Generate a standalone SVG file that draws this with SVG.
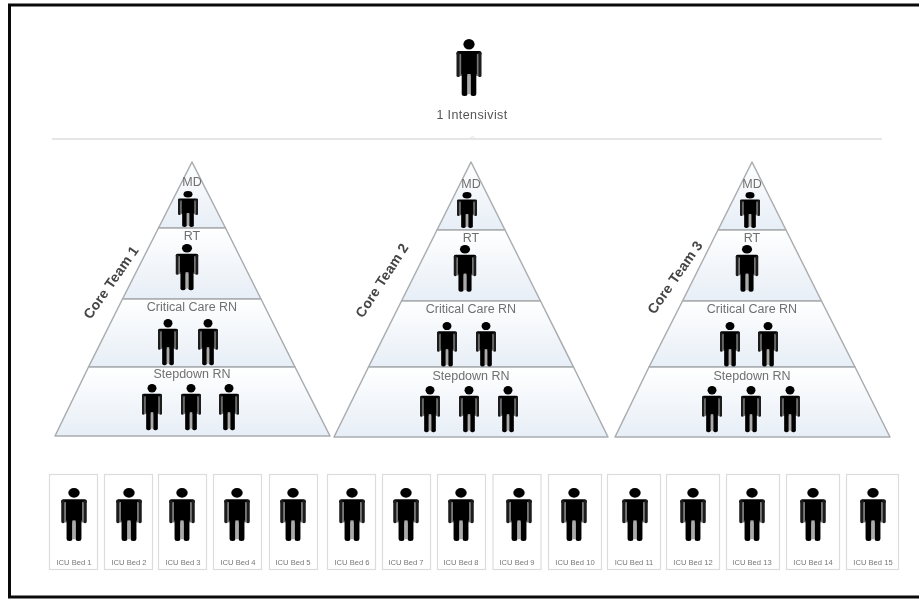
<svg xmlns="http://www.w3.org/2000/svg" xmlns:xlink="http://www.w3.org/1999/xlink" width="919" height="600" viewBox="0 0 919 600">
<style>
text{font-family:"Liberation Sans",Arial,sans-serif;text-anchor:middle}
.band{fill:url(#bandFill);stroke:#a9adb0;stroke-width:1.5;stroke-linejoin:round}
.lvl{font-size:12.5px;fill:#707070}
.team{font-size:14px;font-weight:bold;fill:#444;letter-spacing:.2px}
.bed{fill:#fff;stroke:#dcdcdc;stroke-width:1.2}
.bedtxt{font-size:7.6px;fill:#777}
.soft{filter:url(#soft)}
</style>
<defs>
<linearGradient id="bandFill" x1="0" y1="0" x2="0" y2="1"><stop offset="0" stop-color="#ffffff"/><stop offset="1" stop-color="#e7eef6"/></linearGradient>
<filter id="soft" x="-5%" y="-5%" width="110%" height="110%"><feGaussianBlur stdDeviation="0.55"/></filter>
<g id="person">
<ellipse cx="0" cy="5.200" rx="5.600" ry="5.200"/>
<rect x="-12.500" y="12" width="25" height="4.500" rx="2"/>
<rect x="-12.500" y="13" width="3.400" height="25" rx="1.600" fill="#1a1a1a"/>
<rect x="9.100" y="13" width="3.400" height="25" rx="1.600" fill="#1a1a1a"/>
<rect x="-9.400" y="15" width="18.800" height="22" fill="#777"/>
<rect x="-7.800" y="13" width="15.600" height="22"/>
<rect x="-7.300" y="32" width="5.800" height="25" rx="2.500"/>
<rect x="1.500" y="32" width="5.800" height="25" rx="2.500"/>
<rect x="-1.500" y="35" width="3" height="20" fill="#aaa"/>
</g>
</defs>
<rect width="919" height="600" fill="#fff"/>
<path d="M919 5H9.500V597H919" fill="none" stroke="#0a0a0a" stroke-width="3"/>
<g class="soft">
<g id="connectors"><path d="M52 139H882" stroke="#dedede" stroke-width="1.600" fill="none"/><path d="M470 138.500L472.500 136.500L475 138.500" stroke="#dedede" fill="none"/></g>
<g id="intensivist"><use xlink:href="#person" href="#person" transform="translate(469 39)"/><text x="472" y="119" font-size="12.500" fill="#555" letter-spacing=".4">1 Intensivist</text></g>

<g id="core-team-1">
<polygon class="band" points="192,162 225.500,228 158.500,228"/>
<polygon class="band" points="158.500,228 225.500,228 261,299 122.500,299"/>
<polygon class="band" points="122.500,299 261,299 295,367 88.500,367"/>
<polygon class="band" points="88.500,367 295,367 330,436 55,436"/>
<text class="team" transform="translate(115 285) rotate(-55)">Core Team 1</text>
<text class="lvl" x="192" y="186">MD</text><text class="lvl" x="192" y="240">RT</text><text class="lvl" x="192" y="311">Critical Care RN</text><text class="lvl" x="192" y="378">Stepdown RN</text>
<use xlink:href="#person" href="#person" transform="translate(188 191) scale(.8 .63)"/>
<use xlink:href="#person" href="#person" transform="translate(187 244) scale(.9 .81)"/>
<use xlink:href="#person" href="#person" transform="translate(168 319) scale(.8 .81)"/>
<use xlink:href="#person" href="#person" transform="translate(208 319) scale(.8 .81)"/>
<use xlink:href="#person" href="#person" transform="translate(152 384) scale(.8 .81)"/>
<use xlink:href="#person" href="#person" transform="translate(191 384) scale(.8 .81)"/>
<use xlink:href="#person" href="#person" transform="translate(229 384) scale(.8 .81)"/>
</g>

<g id="core-team-2">
<polygon class="band" points="471,162 505,230 437,230"/>
<polygon class="band" points="437,230 505,230 540.500,301 401.500,301"/>
<polygon class="band" points="401.500,301 540.500,301 573.500,367 368.500,367"/>
<polygon class="band" points="368.500,367 573.500,367 608,437 334,437"/>
<text class="team" transform="translate(386 283) rotate(-57)">Core Team 2</text>
<text class="lvl" x="471" y="188">MD</text><text class="lvl" x="471" y="242">RT</text><text class="lvl" x="471" y="313">Critical Care RN</text><text class="lvl" x="471" y="380">Stepdown RN</text>
<use xlink:href="#person" href="#person" transform="translate(467 192) scale(.8 .63)"/>
<use xlink:href="#person" href="#person" transform="translate(465 245) scale(.9 .82)"/>
<use xlink:href="#person" href="#person" transform="translate(447 322) scale(.8 .78)"/>
<use xlink:href="#person" href="#person" transform="translate(486 322) scale(.8 .78)"/>
<use xlink:href="#person" href="#person" transform="translate(430 386) scale(.8 .81)"/>
<use xlink:href="#person" href="#person" transform="translate(469 386) scale(.8 .81)"/>
<use xlink:href="#person" href="#person" transform="translate(508 386) scale(.8 .81)"/>
</g>

<g id="core-team-3">
<polygon class="band" points="752,162 786,230 718,230"/>
<polygon class="band" points="718,230 786,230 821.500,301 682.500,301"/>
<polygon class="band" points="682.500,301 821.500,301 855,367 649,367"/>
<polygon class="band" points="649,367 855,367 890,437 615,437"/>
<text class="team" transform="translate(679 280) rotate(-55)">Core Team 3</text>
<text class="lvl" x="752" y="188">MD</text><text class="lvl" x="752" y="242">RT</text><text class="lvl" x="752" y="313">Critical Care RN</text><text class="lvl" x="752" y="380">Stepdown RN</text>
<use xlink:href="#person" href="#person" transform="translate(750 192) scale(.8 .63)"/>
<use xlink:href="#person" href="#person" transform="translate(747 245) scale(.9 .82)"/>
<use xlink:href="#person" href="#person" transform="translate(730 322) scale(.8 .78)"/>
<use xlink:href="#person" href="#person" transform="translate(768 322) scale(.8 .78)"/>
<use xlink:href="#person" href="#person" transform="translate(712 386) scale(.8 .81)"/>
<use xlink:href="#person" href="#person" transform="translate(751 386) scale(.8 .81)"/>
<use xlink:href="#person" href="#person" transform="translate(790 386) scale(.8 .81)"/>
</g>

<g id="bed-1"><rect class="bed" x="49.500" y="474.500" width="48" height="95"/><use xlink:href="#person" href="#person" transform="translate(74 488) scale(1.02 .93)"/><text class="bedtxt" x="74" y="565">ICU Bed 1</text></g>
<g id="bed-2"><rect class="bed" x="104.500" y="474.500" width="48" height="95"/><use xlink:href="#person" href="#person" transform="translate(129 488) scale(1.02 .93)"/><text class="bedtxt" x="129" y="565">ICU Bed 2</text></g>
<g id="bed-3"><rect class="bed" x="158.500" y="474.500" width="48" height="95"/><use xlink:href="#person" href="#person" transform="translate(182 488) scale(1.02 .93)"/><text class="bedtxt" x="183" y="565">ICU Bed 3</text></g>
<g id="bed-4"><rect class="bed" x="213.500" y="474.500" width="48" height="95"/><use xlink:href="#person" href="#person" transform="translate(237 488) scale(1.02 .93)"/><text class="bedtxt" x="238" y="565">ICU Bed 4</text></g>
<g id="bed-5"><rect class="bed" x="269.500" y="474.500" width="48" height="95"/><use xlink:href="#person" href="#person" transform="translate(293 488) scale(1.02 .93)"/><text class="bedtxt" x="293" y="565">ICU Bed 5</text></g>
<g id="bed-6"><rect class="bed" x="327.500" y="474.500" width="48" height="95"/><use xlink:href="#person" href="#person" transform="translate(352 488) scale(1.02 .93)"/><text class="bedtxt" x="352" y="565">ICU Bed 6</text></g>
<g id="bed-7"><rect class="bed" x="382.500" y="474.500" width="48" height="95"/><use xlink:href="#person" href="#person" transform="translate(406 488) scale(1.02 .93)"/><text class="bedtxt" x="406" y="565">ICU Bed 7</text></g>
<g id="bed-8"><rect class="bed" x="437.500" y="474.500" width="48" height="95"/><use xlink:href="#person" href="#person" transform="translate(461 488) scale(1.02 .93)"/><text class="bedtxt" x="461" y="565">ICU Bed 8</text></g>
<g id="bed-9"><rect class="bed" x="493" y="474.500" width="48" height="95"/><use xlink:href="#person" href="#person" transform="translate(519 488) scale(1.02 .93)"/><text class="bedtxt" x="517" y="565">ICU Bed 9</text></g>
<g id="bed-10"><rect class="bed" x="548.500" y="474.500" width="53" height="95"/><use xlink:href="#person" href="#person" transform="translate(574 488) scale(1.02 .93)"/><text class="bedtxt" x="575" y="565">ICU Bed 10</text></g>
<g id="bed-11"><rect class="bed" x="607.500" y="474.500" width="53" height="95"/><use xlink:href="#person" href="#person" transform="translate(635 488) scale(1.02 .93)"/><text class="bedtxt" x="634" y="565">ICU Bed 11</text></g>
<g id="bed-12"><rect class="bed" x="666.500" y="474.500" width="53" height="95"/><use xlink:href="#person" href="#person" transform="translate(693 488) scale(1.02 .93)"/><text class="bedtxt" x="693" y="565">ICU Bed 12</text></g>
<g id="bed-13"><rect class="bed" x="726.500" y="474.500" width="53" height="95"/><use xlink:href="#person" href="#person" transform="translate(752 488) scale(1.02 .93)"/><text class="bedtxt" x="752" y="565">ICU Bed 13</text></g>
<g id="bed-14"><rect class="bed" x="786.500" y="474.500" width="53" height="95"/><use xlink:href="#person" href="#person" transform="translate(813 488) scale(1.02 .93)"/><text class="bedtxt" x="813" y="565">ICU Bed 14</text></g>
<g id="bed-15"><rect class="bed" x="846.500" y="474.500" width="52" height="95"/><use xlink:href="#person" href="#person" transform="translate(873 488) scale(1.02 .93)"/><text class="bedtxt" x="873" y="565">ICU Bed 15</text></g>
</g>
</svg>
